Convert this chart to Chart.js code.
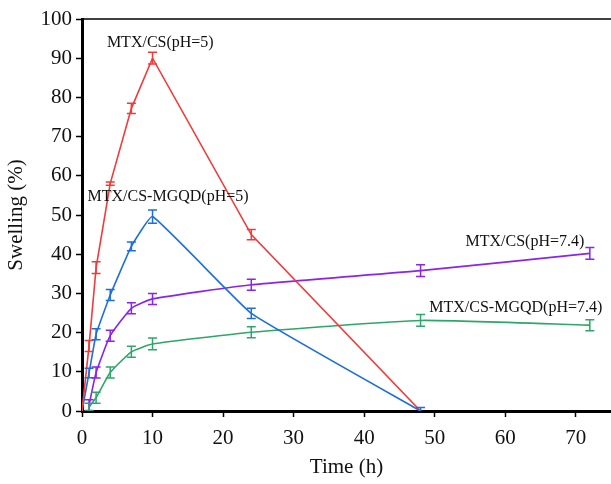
<!DOCTYPE html>
<html>
<head>
<meta charset="utf-8">
<script src="https://cdn.jsdelivr.net/npm/chart.js@4.4.0/dist/chart.umd.min.js"></script>
<style>
  body { margin: 0; background: #fff; }
  #swelling { display: block; }
</style>
</head>
<body>
<canvas id="swelling" width="611" height="484"></canvas>
<script>
// time points (h) and swelling (%)
var timeShort = [0, 1, 2, 4, 7, 10, 24, 48];
var timeLong = [1, 2, 4, 7, 10, 24, 48, 72];

var csPh5 = [0, 16.6, 36.6, 58, 77.2, 90, 45, 0];
var csPh5Err = [0, 1.4, 1.5, 0.4, 1.3, 1.5, 1.3, 0];

var mgqdPh5 = [0, 9.7, 19.6, 29.6, 42, 49.6, 24.9, 0];
var mgqdPh5Err = [0, 1.2, 1.4, 1.4, 1.1, 1.7, 1.3, 0.9];

var csPh74 = [1.5, 9.8, 19.2, 26.2, 28.6, 32.2, 35.8, 40.2];
var csPh74Err = [1.4, 1.4, 1.4, 1.4, 1.4, 1.4, 1.5, 1.5];

var mgqdPh74 = [1, 3.4, 9.8, 15.1, 17.1, 20.1, 23.1, 21.9];
var mgqdPh74Err = [1, 1.4, 1.4, 1.4, 1.5, 1.4, 1.5, 1.4];

var labels = ["MTX/CS(pH=5)", "MTX/CS-MGQD(pH=5)", "MTX/CS(pH=7.4)", "MTX/CS-MGQD(pH=7.4)"];
// where each series name sits, in data units
var labelX = [11.1, 12.2, 62.8, 61.5];
var labelY = [94, 54.6, 43.2, 26.2];

var xTicks = [0, 10, 20, 30, 40, 50, 60, 70];

function pts(xs, ys) {
    return xs.map(function (x, i) { return { x: x, y: ys[i] }; });
}

var serif = "'Liberation Serif', 'Times New Roman', serif";

// error bars drawn through the scales
var errorBars = {
    id: 'errorBars',
    afterDatasetsDraw: function (chart) {
        var ctx = chart.ctx;
        var xs = chart.scales.x, ys = chart.scales.y;
        var area = chart.chartArea;
        ctx.save();
        ctx.beginPath();
        ctx.rect(area.left, area.top - 5, area.right - area.left, area.bottom - area.top + 5);
        ctx.clip();
        chart.data.datasets.forEach(function (ds) {
            ctx.strokeStyle = ds.borderColor;
            ctx.lineWidth = 1.5;
            ds.data.forEach(function (p, i) {
                var e = ds.errors[i];
                if (!e) return;
                var px = xs.getPixelForValue(p.x);
                var top = ys.getPixelForValue(p.y + e);
                var bot = ys.getPixelForValue(p.y - e);
                ctx.beginPath();
                ctx.moveTo(px, top); ctx.lineTo(px, bot);
                ctx.moveTo(px - 4.5, top); ctx.lineTo(px + 4.5, top);
                ctx.moveTo(px - 4.5, bot); ctx.lineTo(px + 4.5, bot);
                ctx.stroke();
            });
        });
        ctx.restore();
    }
};

var extras = {
    id: 'extras',
    afterDraw: function (chart) {
        var ctx = chart.ctx;
        var xs = chart.scales.x, ys = chart.scales.y;
        var area = chart.chartArea;
        ctx.save();
        // thin top frame line
        ctx.strokeStyle = '#000';
        ctx.lineWidth = 1.5;
        ctx.beginPath();
        ctx.moveTo(area.left, area.top);
        ctx.lineTo(chart.width, area.top);
        ctx.stroke();
        // series names
        ctx.fillStyle = '#111';
        ctx.font = '16px ' + serif;
        ctx.textAlign = 'center';
        ctx.textBaseline = 'middle';
        labels.forEach(function (t, i) {
            ctx.fillText(t, xs.getPixelForValue(labelX[i]), ys.getPixelForValue(labelY[i]));
        });
        ctx.restore();
    }
};

var ctx = document.getElementById('swelling').getContext('2d');
var chart = new Chart(ctx, {
    type: 'line',
    data: {
        datasets: [
            { data: pts(timeShort, csPh5), errors: csPh5Err, borderColor: '#f23a3a', tension: 0 },
            { data: pts(timeShort, mgqdPh5), errors: mgqdPh5Err, borderColor: '#1f6fd8', tension: 0.1 },
            { data: pts(timeLong, csPh74), errors: csPh74Err, borderColor: '#8a22f0', tension: 0.15 },
            { data: pts(timeLong, mgqdPh74), errors: mgqdPh74Err, borderColor: '#2ea66a', tension: 0.15 }
        ]
    },
    options: {
        responsive: false,
        animation: false,
        layout: { padding: { top: 19, right: 0, left: 0, bottom: 0 } },
        elements: {
            line: { borderWidth: 1.6, fill: false },
            point: { radius: 0 }
        },
        plugins: {
            legend: { display: false },
            tooltip: { enabled: false }
        },
        scales: {
            x: {
                type: 'linear',
                min: 0,
                max: 75,
                afterBuildTicks: function (scale) {
                    scale.ticks = xTicks.map(function (v) { return { value: v }; });
                },
                afterFit: function (scale) { scale.height = 73; },
                border: { color: '#000', width: 3 },
                grid: { drawOnChartArea: false, color: '#000', tickLength: 6, tickWidth: 1.5 },
                ticks: { color: '#111', font: { family: serif, size: 21 }, padding: 9, maxRotation: 0 },
                title: { display: true, text: 'Time (h)', color: '#111', font: { family: serif, size: 21 }, padding: { top: 10 } }
            },
            y: {
                min: 0,
                max: 100,
                afterFit: function (scale) { scale.width = 82; },
                border: { color: '#000', width: 3 },
                grid: { drawOnChartArea: false, color: '#000', tickLength: 6, tickWidth: 1.5 },
                ticks: { stepSize: 10, color: '#111', font: { family: serif, size: 21 }, padding: 4 },
                title: { display: true, text: 'Swelling (%)', color: '#111', font: { family: serif, size: 21 }, padding: { bottom: 0 } }
            }
        }
    },
    plugins: [errorBars, extras]
});
</script>
</body>
</html>
